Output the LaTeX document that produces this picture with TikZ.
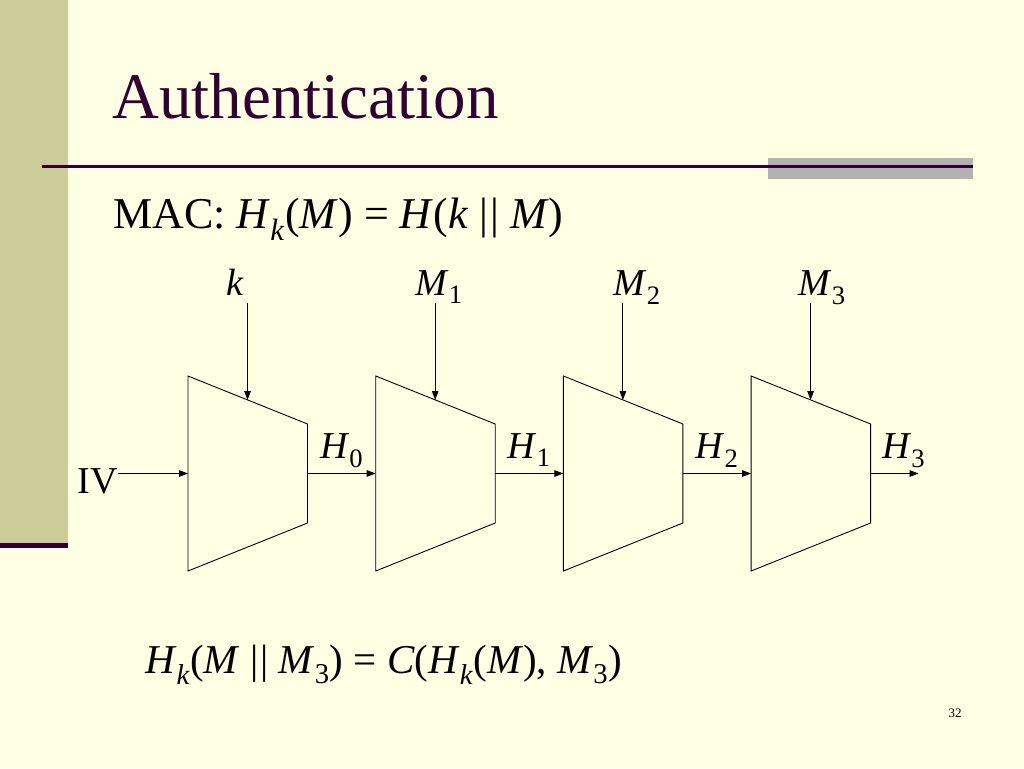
\documentclass[tikz,border=0pt]{standalone}
\usepackage{fontspec}
\setmainfont{Liberation Serif}
\usepackage{tikz}
\usetikzlibrary{positioning, calc}
\usetikzlibrary{arrows.meta}
\definecolor{slidebg}{HTML}{FFFFE3}
\definecolor{sidebar}{HTML}{CCCC99}
\definecolor{titlecol}{HTML}{330033}
\definecolor{graybar}{HTML}{B2B2B2}
\tikzstyle{blockline}=[line width=0.9pt, line join=miter]
\tikzstyle{edgepath}=[-{Triangle[length=9pt,width=6.5pt]}, line width=0.9pt]
\tikzstyle{lbl}=[inner sep=0pt, anchor=base, font=\fontsize{38}{40}\selectfont]
\tikzstyle{slidetext}=[inner sep=0pt, anchor=base west]
\newcommand{\vsub}[2]{\textit{#1}\textsubscript{#2}}

\begin{document}
\begin{tikzpicture}[x=1pt, y=-1pt]
    \useasboundingbox (0,0) rectangle (1024,768);
    \fill[slidebg] (0,0) rectangle (1024,768);
    \fill[sidebar] (0,0) rectangle (68,543);
    \fill[titlecol] (0,543) rectangle (68,548);
    \fill[graybar] (768,158) rectangle (973,179);
    \draw[titlecol, line width=2.5pt] (42,166.5) -- (973,166.5);

    \node[slidetext, text=titlecol, font=\fontsize{65}{70}\selectfont] (title) at (112,118) {Authentication};
    \node[slidetext, font=\fontsize{44}{48}\selectfont] (mac) at (113,228)
        {MAC: \vsub{H}{\textit{k}}(\textit{M}) = \textit{H}(\textit{k} |\kern2pt| \textit{M})};

    % compression blocks
    \foreach \i in {0,...,3} {
        \pgfmathsetmacro{\L}{188+187.7*\i}
        \draw[blockline] (\L,376) -- ++(119.5,48) -- ++(0,99) -- (\L,571) -- cycle;
        \coordinate (in\i) at (\L,473.5);
        \coordinate (out\i) at (\L+119.5,473.5);
        \coordinate (top\i) at (\L+59.5,400);
    }
    \coordinate (end) at ($(out3)+(48,0)$);

    \node[lbl] (k) at (235,295) {\textit{k}};
    \node[lbl] (m1) at (439,295) {\vsub{M}{1}};
    \node[lbl] (m2) at (637,295) {\vsub{M}{2}};
    \node[lbl] (m3) at (822,295) {\vsub{M}{3}};

    \node[lbl] (h0) at ($(out0)!0.5!(in1)+(0,-15.5)$) {\vsub{H}{0}};
    \node[lbl] (h1) at ($(out1)!0.5!(in2)+(0,-15.5)$) {\vsub{H}{1}};
    \node[lbl] (h2) at ($(out2)!0.5!(in3)+(0,-15.5)$) {\vsub{H}{2}};
    \node[lbl] (h3) at ($(out3)!0.5!(end)+(9,-15)$) {\vsub{H}{3}};
    \node[lbl, anchor=base east] (iv) at (118,493) {IV};

    \path[edgepath]
        (k.base -| top0) ++(0,8) edge (top0)
        (m1.base -| top1) ++(0,8) edge (top1)
        (m2.base -| top2) ++(0,8) edge (top2)
        (m3.base -| top3) ++(0,8) edge (top3)
        (iv.east |- in0) edge (in0)
        (out0) edge (in1)
        (out1) edge (in2)
        (out2) edge (in3)
        (out3) edge (end);

    \node[slidetext, font=\fontsize{41}{44}\selectfont] (chain) at (145,673)
        {\vsub{H}{\textit{k}}(\textit{M} |\kern2pt| \vsub{M}{3}) = \textit{C}(\vsub{H}{\textit{k}}(\textit{M}), \vsub{M}{3})};
    \node[inner sep=0pt, anchor=base, font=\fontsize{13}{14}\selectfont] (pg) at (955,717) {32};
\end{tikzpicture}
\end{document}
